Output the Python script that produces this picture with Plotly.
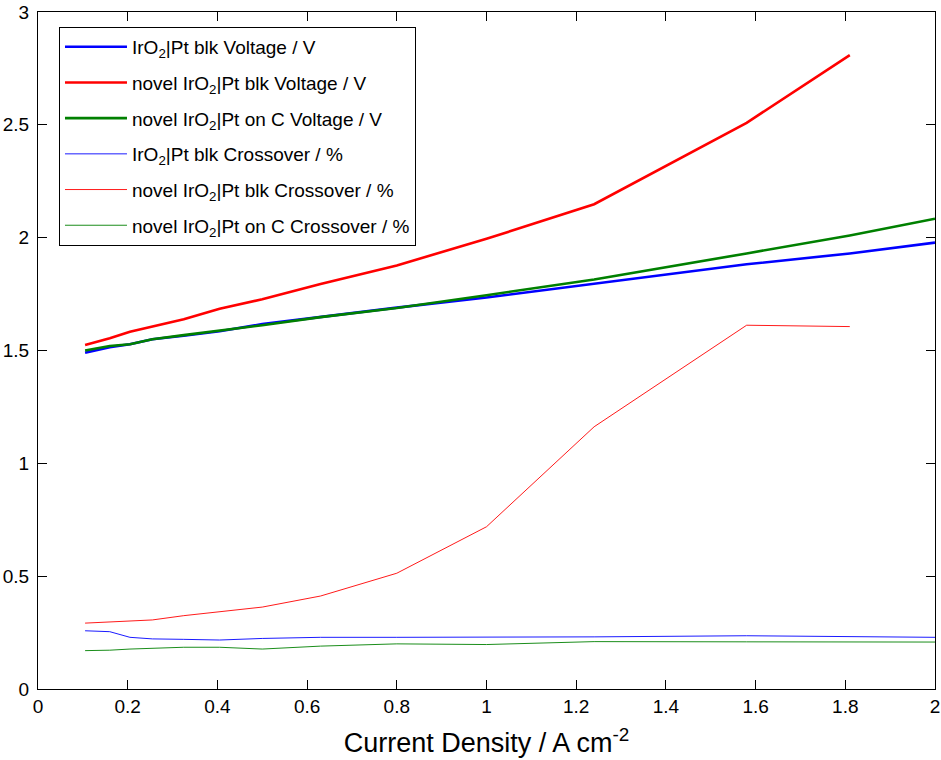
import plotly.graph_objects as go

# Current density (A cm^-2) at each polarisation step
j_ref = [0.105, 0.16, 0.205, 0.255, 0.325, 0.405, 0.50, 0.63, 0.80, 1.00, 1.24, 1.58, 1.81, 2.00]
j_novel_blk = [0.105, 0.16, 0.205, 0.255, 0.325, 0.405, 0.50, 0.63, 0.80, 1.00, 1.24, 1.58, 1.81]
j_novel_c = [0.105, 0.16, 0.205, 0.255, 0.325, 0.405, 0.50, 0.63, 0.80, 1.00, 1.24, 1.58, 1.81, 2.00]

# Cell voltage / V
v_ref = [1.490, 1.515, 1.528, 1.550, 1.565, 1.585, 1.617, 1.650, 1.690, 1.735, 1.795, 1.882, 1.930, 1.978]
v_novel_blk = [1.524, 1.554, 1.583, 1.605, 1.638, 1.685, 1.727, 1.795, 1.877, 1.995, 2.148, 2.509, 2.809]
v_novel_c = [1.500, 1.520, 1.528, 1.550, 1.568, 1.587, 1.612, 1.648, 1.688, 1.745, 1.815, 1.930, 2.010, 2.084]

# Hydrogen crossover / %
x_ref = [0.258, 0.254, 0.229, 0.222, 0.220, 0.217, 0.224, 0.229, 0.229, 0.229, 0.231, 0.236, 0.232, 0.229]
x_novel_blk = [0.292, 0.298, 0.303, 0.306, 0.325, 0.343, 0.363, 0.412, 0.513, 0.719, 1.162, 1.612, 1.606]
x_novel_c = [0.170, 0.172, 0.177, 0.180, 0.185, 0.185, 0.177, 0.190, 0.200, 0.197, 0.210, 0.209, 0.209, 0.208]

x_ticks = [0, 0.2, 0.4, 0.6, 0.8, 1, 1.2, 1.4, 1.6, 1.8, 2]
y_ticks = [0, 0.5, 1, 1.5, 2, 2.5, 3]

BLUE, RED, GREEN = "#0000FF", "#FF0000", "#008000"
FONT = "Arial, Liberation Sans, sans-serif"

series = [
    (j_ref, v_ref, BLUE, 2.6, "IrO<sub>2</sub>|Pt blk Voltage / V"),
    (j_novel_blk, v_novel_blk, RED, 2.6, "novel IrO<sub>2</sub>|Pt blk Voltage / V"),
    (j_novel_c, v_novel_c, GREEN, 2.6, "novel IrO<sub>2</sub>|Pt on C Voltage / V"),
    (j_ref, x_ref, BLUE, 0.9, "IrO<sub>2</sub>|Pt blk Crossover / %"),
    (j_novel_blk, x_novel_blk, RED, 0.9, "novel IrO<sub>2</sub>|Pt blk Crossover / %"),
    (j_novel_c, x_novel_c, GREEN, 0.9, "novel IrO<sub>2</sub>|Pt on C Crossover / %"),
]

fig = go.Figure()
for i, (xs, ys, color, width, name) in enumerate(series):
    fig.add_trace(go.Scatter(
        x=xs, y=ys, mode="lines", name=name,
        line=dict(color=color, width=width),
        legendgroup=f"g{i}",
    ))

axis_common = dict(
    showgrid=False, zeroline=False, automargin=False,
    showline=True, linecolor="black", linewidth=1, mirror="ticks",
    ticks="inside", ticklen=9, tickwidth=1, tickcolor="black",
    tickfont=dict(family=FONT, size=19, color="black"),
)

fig.update_layout(
    width=941, height=760,
    margin=dict(l=38, r=6, t=12, b=71),
    paper_bgcolor="white", plot_bgcolor="white",
    font=dict(family=FONT, color="black"),
    xaxis=dict(
        range=[0, 2], tickvals=x_ticks, ticktext=[f"{v:g}" for v in x_ticks],
        title=dict(text="Current Density / A cm<sup>-2</sup>",
                   font=dict(family=FONT, size=27, color="black"), standoff=17),
        **axis_common,
    ),
    yaxis=dict(
        range=[0, 3], tickvals=y_ticks, ticktext=[f"{v:g}" for v in y_ticks],
        ticklabelstandoff=4,
        **axis_common,
    ),
    legend=dict(
        x=0.0234, y=0.978, xanchor="left", yanchor="top",
        bgcolor="white", bordercolor="black", borderwidth=1,
        font=dict(family=FONT, size=19, color="black"),
        tracegroupgap=8, itemwidth=62,
    ),
    showlegend=True,
)

fig.write_html("out.html")
